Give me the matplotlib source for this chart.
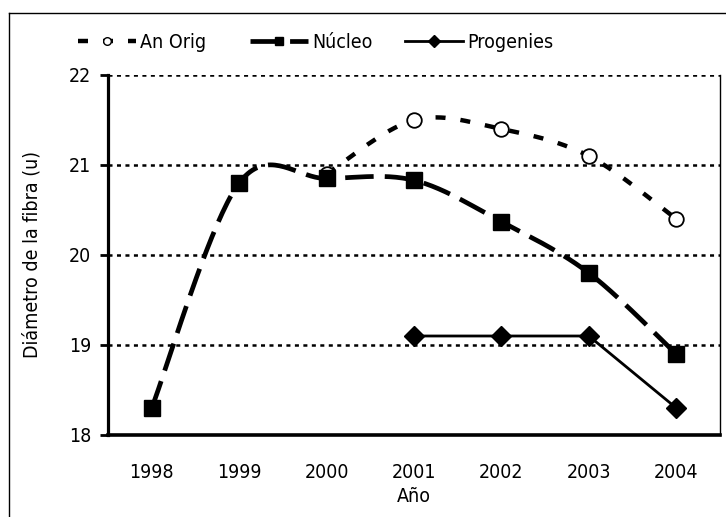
import numpy as np
import matplotlib
matplotlib.use("Agg")
import matplotlib.pyplot as plt
from matplotlib.lines import Line2D

plt.rcParams['font.family'] = ['DejaVu Sans']
plt.rcParams['font.stretch'] = 'condensed'
plt.rcParams['lines.scale_dashes'] = False

years = ['1998', '1999', '2000', '2001', '2002', '2003', '2004']
an_orig = [np.nan, np.nan, 20.9, 21.5, 21.4, 21.1, 20.4]
nucleo = [18.3, 20.8, 20.85, 20.83, 20.37, 19.8, 18.9]
progenies = [np.nan, np.nan, np.nan, 19.1, 19.1, 19.1, 18.3]
yticks = [18, 19, 20, 21, 22]
series_names = ['An Orig', 'Núcleo', 'Progenies']

FS = 14
W, H = 726, 517
fig = plt.figure(figsize=(W / 100, H / 100), dpi=100)
ax = fig.add_axes([108 / W, 1 - 435 / H, (720 - 108) / W, (435 - 75) / H])


def smooth(xs, ys, n=40):
    pts = np.column_stack([xs, ys])
    out = []
    m = len(pts)
    for i in range(m - 1):
        p0 = pts[i - 1] if i > 0 else pts[i]
        p1 = pts[i]
        p2 = pts[i + 1]
        p3 = pts[i + 2] if i + 2 < m else pts[i + 1]
        c1 = p1 + (p2 - p0) / 6.0
        c2 = p2 - (p3 - p1) / 6.0
        t = np.linspace(0, 1, n)[:, None]
        seg = ((1 - t) ** 3) * p1 + 3 * ((1 - t) ** 2) * t * c1 + 3 * (1 - t) * t ** 2 * c2 + t ** 3 * p2
        out.append(seg if i == 0 else seg[1:])
    s = np.vstack(out)
    return s[:, 0], s[:, 1]


x = np.arange(len(years), dtype=float)

# grid
for v in yticks[1:]:
    ax.axhline(v, color='black', lw=1.8, dashes=(2.9, 3.2), zorder=1)

an_style = dict(color='black', lw=3.2, dashes=(7.2, 10.8))
nu_style = dict(color='black', lw=3.4, dashes=(20.5, 8.0))
pr_style = dict(color='black', lw=2.0)

a = np.array(an_orig)
ma = ~np.isnan(a)
sx, sy = smooth(x[ma], a[ma])
ax.plot(sx, sy, zorder=3, **an_style)
ax.plot(x[ma], a[ma], ls='none', marker='o', ms=10.5, mfc='white', mec='black', mew=1.3, zorder=4)

n = np.array(nucleo)
sx, sy = smooth(x, n)
ax.plot(sx, sy, zorder=5, **nu_style)
ax.plot(x, n, ls='none', marker='s', ms=11.5, mfc='black', mec='black', zorder=6)

p = np.array(progenies)
mp = ~np.isnan(p)
ax.plot(x[mp], p[mp], marker='D', ms=10, mfc='black', mec='black', zorder=7, **pr_style)

ax.set_xlim(-0.5, len(years) - 0.5)
ax.set_ylim(18, 22)
ax.set_xticks(x)
ax.set_xticklabels(years, fontsize=FS)
ax.set_yticks(yticks)
ax.set_yticklabels([str(v) for v in yticks], fontsize=FS)
ax.tick_params(axis='x', length=0, pad=20)
ax.tick_params(axis='y', direction='out', length=6, width=2, pad=6)
ax.spines['top'].set_visible(False)
ax.spines['left'].set_linewidth(2.3)
ax.spines['bottom'].set_linewidth(2.6)
ax.spines['right'].set_linewidth(1.0)
ax.set_xlabel('Año', fontsize=FS, labelpad=4)
ax.set_ylabel('Diámetro de la fibra (u)', fontsize=FS, labelpad=20)

handles = [
    Line2D([], [], marker='o', ms=5.5, mfc='white', mec='black', mew=1.0, **an_style),
    Line2D([], [], marker='s', ms=6, mfc='black', mec='black', **nu_style),
    Line2D([], [], marker='D', ms=6.5, mfc='black', mec='black', **pr_style),
]
for h, name, x0 in zip(handles, series_names, [78, 250, 405]):
    fig.legend([h], [name], loc='center left',
               bbox_to_anchor=(x0 / W, 1 - 42 / H), frameon=False,
               fontsize=FS, handlelength=3.0, handletextpad=0.2,
               borderpad=0, borderaxespad=0)

# outer frame (cropped)
fig.add_artist(Line2D([9 / W, 9 / W], [0, 1 - 13 / H], transform=fig.transFigure, color='black', lw=1.0))
fig.add_artist(Line2D([9 / W, 1], [1 - 13 / H, 1 - 13 / H], transform=fig.transFigure, color='black', lw=1.0))

fig.savefig('out.png', dpi=100)
